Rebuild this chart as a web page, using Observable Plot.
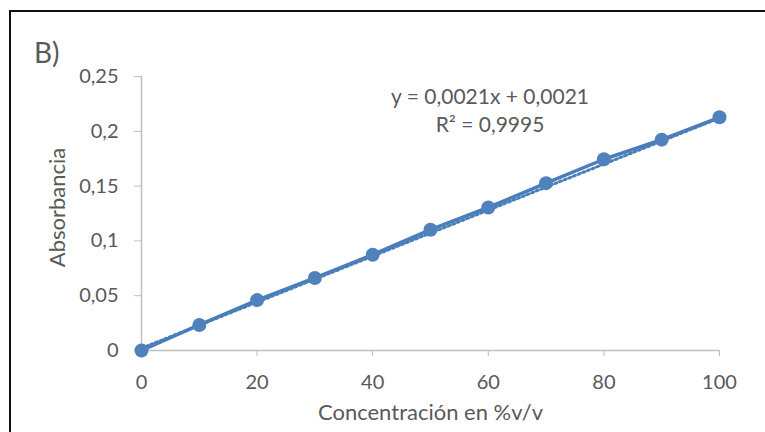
<!DOCTYPE html>
<html>
<head>
<meta charset="utf-8">
<script src="https://cdn.jsdelivr.net/npm/d3@7"></script>
<script src="https://cdn.jsdelivr.net/npm/@observablehq/plot@0.6"></script>
<style>
  html, body { margin: 0; padding: 0; background: #fff; overflow: hidden; }
  #wrap { position: relative; width: 765px; height: 432px; overflow: hidden; font-family: Lato, sans-serif; }
  #chart { position: absolute; left: 0; top: 0; }
  #frame { position: absolute; left: 9px; top: 10px; width: 900px; height: 600px;
           border-left: 2px solid #111; border-top: 2px solid #111; pointer-events: none; }
  #tag { position: absolute; left: 34px; top: 35px; font-size: 28px; color: #595959; }
</style>
</head>
<body>
<div id="wrap">
  <div id="chart"></div>
  <div id="frame"></div>
  <div id="tag">B)</div>
</div>
<script>
// Calibration series: concentration (%v/v) and measured absorbance
const concentration = [0, 10, 20, 30, 40, 50, 60, 70, 80, 90, 100];
const absorbance = [0, 0.0233, 0.0460, 0.0662, 0.0874, 0.1102, 0.1305, 0.1527, 0.1745, 0.1924, 0.2128];

// Axis ticks
const xTicks = [0, 20, 40, 60, 80, 100];
const yTicks = [0, 0.05, 0.1, 0.15, 0.2, 0.25];

// Linear fit
const trendSlope = 0.0021;
const trendIntercept = 0.0021;
const trendR2 = 0.9995;
const trendRange = [0, 100];

const fmt = d => String(d).replace(".", ",");

const points = concentration.map((c, i) => ({c, a: absorbance[i]}));
const trend = trendRange.map(c => ({c, a: trendSlope * c + trendIntercept}));

const blue = "#4a7ebb";
const grid = "#bfbfbf";
const ink = "#595959";

const chart = Plot.plot({
  width: 765,
  height: 432,
  marginLeft: 141,
  marginRight: 46,
  marginTop: 76,
  marginBottom: 82,
  style: {fontFamily: "Lato, sans-serif", fontSize: "20px", background: "transparent", color: grid},
  x: {domain: [0, 100]},
  y: {domain: [0, 0.25]},
  marks: [
    Plot.ruleX([0], {stroke: grid, strokeWidth: 1.5}),
    Plot.ruleY([0], {stroke: grid, strokeWidth: 1.5}),
    Plot.axisY(yTicks, {tickSize: 7, tickPadding: 16, tickFormat: fmt, fill: ink, label: null}),
    Plot.axisX(xTicks, {tickSize: 6, tickPadding: 18, tickFormat: fmt, fill: ink, label: null}),
    Plot.text(["Absorbancia"], {frameAnchor: "left", textAnchor: "middle", lineAnchor: "middle",
      dx: -84, dy: -6, rotate: -90, fill: ink, fontSize: 22}),
    Plot.text(["Concentración en %v/v"], {frameAnchor: "bottom", textAnchor: "middle", lineAnchor: "middle",
      dx: 0, dy: 62, fill: ink, fontSize: 22}),
    Plot.text([`y = ${fmt(trendSlope)}x + ${fmt(trendIntercept)}\nR² = ${fmt(trendR2)}`],
      {x: 60.3, y: 0.2202, fill: ink, fontSize: 21, lineHeight: 1.33}),
    Plot.line(points, {x: "c", y: "a", stroke: blue, strokeWidth: 3.5}),
    Plot.line(trend, {x: "c", y: "a", stroke: blue, strokeWidth: 3, strokeDasharray: "2,3"}),
    Plot.dot(points, {x: "c", y: "a", r: 7, fill: "#4f81bd", stroke: "none"})
  ]
});
document.getElementById("chart").appendChild(chart);
</script>
</body>
</html>
